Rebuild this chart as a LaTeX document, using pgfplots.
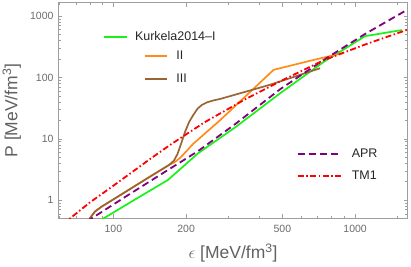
\documentclass[border=0pt]{standalone}
\usepackage{fontspec}
\setmainfont{Liberation Sans}
\usepackage{pgfplots}
\pgfplotsset{compat=1.18}
\definecolor{mgreen}{rgb}{0.1,0.95,0.1}
\definecolor{morange}{rgb}{1,0.55,0.1}
\definecolor{mbrown}{rgb}{0.6,0.4,0.2}
\definecolor{mpurple}{rgb}{0.5,0,0.5}
\definecolor{mred}{rgb}{1,0,0}
\definecolor{framegray}{rgb}{0.62,0.62,0.62}
\definecolor{tickgray}{rgb}{0.42,0.42,0.42}
\definecolor{labgray}{rgb}{0.38,0.38,0.38}
\pgfplotsset{
  common/.style={scale only axis, width=349.4bp, height=215.6bp},
  leg/.style={legend style={draw=none, fill=none, inner sep=0pt, outer sep=0pt,
      font=\fontsize{12.5bp}{15bp}\selectfont, text=black!85,
      nodes={inner sep=0pt}}, legend cell align=left},
}
\begin{document}
\begin{tikzpicture}
\begin{axis}[name=ax, common,
  xmode=log, ymode=log,
  xmin=59.2, xmax=1650, ymin=0.507, ymax=1650,
  axis line style={framegray, line width=0.6bp},
  tick align=inside,
  major tick length=4bp, minor tick length=2.5bp,
  every tick/.style={framegray, line width=0.5bp},
  xtick={100,200,500,1000}, xticklabels={100,200,500,1000},
  minor xtick={60,70,80,90,300,400,600,700,800,900,1500},
  ytick={1,10,100,1000}, yticklabels={1,10,100,1000},
  minor ytick={0.6,0.7,0.8,0.9,2,3,4,5,6,7,8,9,20,30,40,50,60,70,80,90,200,300,400,500,600,700,800,900},
  xticklabel style={font=\fontsize{10.5bp}{12bp}\selectfont, text=tickgray, inner sep=0pt, yshift=-7bp},
  yticklabel style={font=\fontsize{10.5bp}{12bp}\selectfont, text=tickgray, inner sep=0pt, xshift=-4.6bp},
  xlabel={$\epsilon$ [MeV/fm\textsuperscript{3}]},
  ylabel={P [MeV/fm\textsuperscript{3}]},
  xlabel style={at={(axis description cs:0.5,-0.1855)}, anchor=base, inner sep=0pt,
     font=\fontsize{17.5bp}{20bp}\selectfont, text=labgray},
  ylabel style={at={(axis description cs:-0.1168,0.5)}, anchor=base, inner sep=0pt,
     font=\fontsize{17.5bp}{20bp}\selectfont, text=labgray},
]
% Kurkela2014-I
\addplot[mgreen, line width=1.7bp] coordinates {
(86.7,0.45)(90.7,0.5)(120,0.97)(168,2.13)(224,5.8)(320,15.5)(489,55)(740,178)(1099,470)(1560,591)};
% II
\addplot[morange, line width=1.7bp] coordinates {
(78.5,0.43)(79.8,0.5)(83.8,0.65)(89.2,0.78)(100,1.03)(142,2.43)(170,3.75)(180,4.2)(190,5.0)(214,8.3)(276,20)(460,133)(652,187)(881,247)};
% III
\addplot[mbrown, line width=1.7bp] coordinates {
(78.5,0.43)(79.8,0.5)(83.8,0.65)(89.2,0.78)(100,1.03)(142,2.43)(170,3.75)(178,4.4)(184,5.6)(191,8.5)(198,13)(206,19)(214,24.4)(223,31)(232,35.5)(245,39.5)(260,42.3)(276,44.5)(445,76)(716,141)};
% APR
\addplot[mpurple, line width=1.8bp, dash pattern=on 7bp off 4bp] coordinates {
(77.7,0.45)(81,0.5)(115,1.21)(168,3.1)(224,6.3)(320,17.5)(489,64)(740,192)(1099,510)(1650,1280)};
% TM1
\addplot[mred, line width=1.8bp, dash pattern=on 6bp off 2.5bp on 1.5bp off 2.5bp] coordinates {
(62,0.4)(66,0.5)(80,0.92)(100,1.72)(142,4.7)(172,8.0)(239,18.7)(350,43.8)(500,90)(740,190)(1100,344)(1650,600)};
\end{axis}
% legend: Kurkela2014-I (plus an empty, undrawn second row)
\begin{axis}[common, leg, at={(ax.south west)}, anchor=south west, hide axis,
  xmin=0, xmax=1, ymin=0, ymax=1,
  legend image code/.code={\draw[#1] (0bp,0bp) -- (22.4bp,0bp);},
  legend style={at={(axis description cs:0.1288,0.8666)}, anchor=north west, column sep=7.6bp, row sep=12.5bp}]
\addlegendimage{mgreen, line width=1.7bp}
\addlegendentry{Kurkela2014\textendash I}
\addlegendimage{legend image code/.code={}}
\addlegendentry{\phantom{I}}
\end{axis}
% legend: II, III
\begin{axis}[common, leg, at={(ax.south west)}, anchor=south west, hide axis,
  xmin=0, xmax=1, ymin=0, ymax=1,
  legend image code/.code={\draw[#1] (0bp,0bp) -- (22.4bp,0bp);},
  legend style={at={(axis description cs:0.2453,0.6999)}, anchor=west, column sep=8.3bp, row sep=13.3bp}]
\addlegendimage{morange, line width=1.7bp}
\addlegendentry{II}
\addlegendimage{mbrown, line width=1.7bp}
\addlegendentry{III}
\end{axis}
% legend: APR, TM1
\begin{axis}[common, leg, at={(ax.south west)}, anchor=south west, hide axis,
  xmin=0, xmax=1, ymin=0, ymax=1,
  legend image code/.code={\draw[#1] (0bp,0bp) -- (43bp,0bp);},
  legend style={at={(axis description cs:0.6832,0.2472)}, anchor=west, row sep=12.4bp, column sep=10bp}]
\addlegendimage{mpurple, line width=1.8bp, dash pattern=on 7bp off 4bp}
\addlegendentry{APR}
\addlegendimage{mred, line width=1.8bp, dash pattern=on 6bp off 2.5bp on 1.5bp off 2.5bp}
\addlegendentry{TM1}
\end{axis}
\pgfresetboundingbox
\path[use as bounding box] ([shift={(-58.3bp,-48.7bp)}]ax.south west) rectangle ([shift={(3.3bp,2.7bp)}]ax.north east);
\end{tikzpicture}
\end{document}
